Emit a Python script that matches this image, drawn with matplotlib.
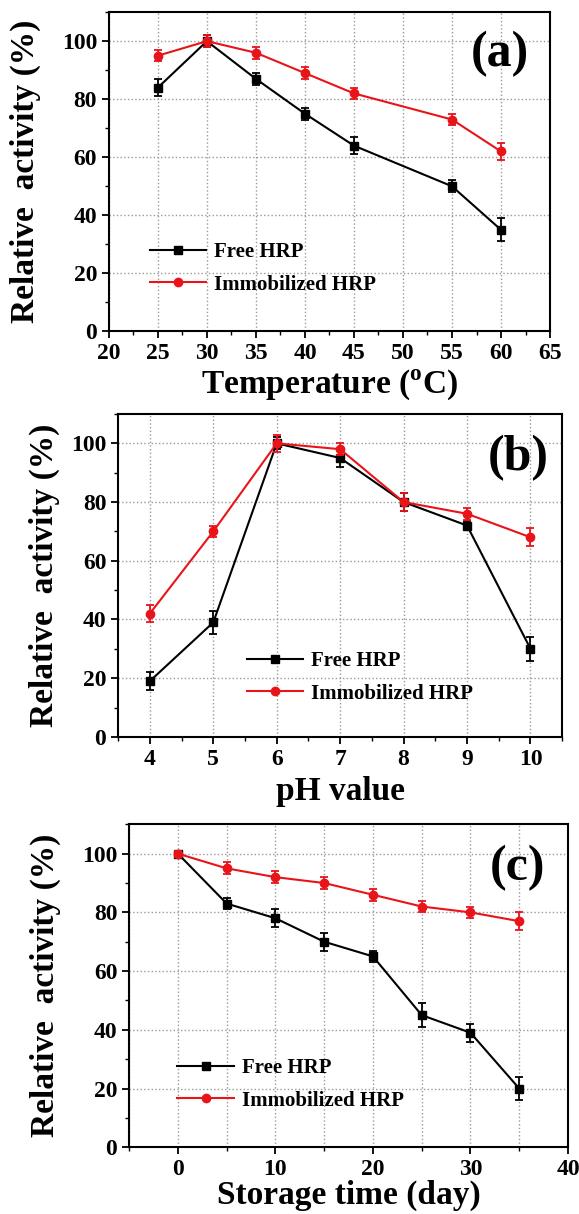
import matplotlib
matplotlib.use("Agg")
import matplotlib.pyplot as plt
from matplotlib.ticker import MultipleLocator
from matplotlib.lines import Line2D

plt.rcParams.update({
    "font.family": "Liberation Serif",
    "font.weight": "bold",
    "mathtext.fontset": "custom",
    "mathtext.rm": "Liberation Serif:bold",
    "axes.linewidth": 1.5,
    "xtick.major.width": 1.3,
    "ytick.major.width": 1.3,
    "xtick.minor.width": 1.0,
    "ytick.minor.width": 1.0,
})

RED = "#e8141a"

# (a) temperature
temp = [25, 30, 35, 40, 45, 55, 60]
temp_free = [84, 100, 87, 75, 64, 50, 35]
temp_free_err = [3, 2, 2, 2, 3, 2, 4]
temp_imm = [95, 100, 96, 89, 82, 73, 62]
temp_imm_err = [2, 2, 2, 2, 2, 2, 3]

# (b) pH
ph = [4, 5, 6, 7, 8, 9, 10]
ph_free = [19, 39, 100, 95, 80, 72, 30]
ph_free_err = [3, 4, 2, 3, 3, 1.5, 4]
ph_imm = [42, 70, 100, 98, 80, 76, 68]
ph_imm_err = [3, 2, 3, 2, 3, 2, 3]

# (c) storage
days = [0, 5, 10, 15, 20, 25, 30, 35]
day_free = [100, 83, 78, 70, 65, 45, 39, 20]
day_free_err = [1, 2, 3, 3, 2, 4, 3, 4]
day_imm = [100, 95, 92, 90, 86, 82, 80, 77]
day_imm_err = [1, 2, 2, 2, 2, 2, 2, 3]

fig = plt.figure(figsize=(5.79, 12.14), dpi=100)

panels = [
    dict(rect=[0.188, 0.727, 0.762, 0.263], x=temp, free=temp_free, ferr=temp_free_err,
         imm=temp_imm, ierr=temp_imm_err, xlim=(20, 65), xmaj=5, xmin=2.5,
         xlabel="Temperature ($^{\\mathrm{o}}$C)", tag="(a)", leg=(0.093, 0.197),
         tagpos=(0.887, 0.87), ylc=-0.154, xlc=-0.113, mingrid=False),
    dict(rect=[0.204, 0.393, 0.767, 0.266], x=ph, free=ph_free, ferr=ph_free_err,
         imm=ph_imm, ierr=ph_imm_err, xlim=(3.5, 10.5), xmaj=1, xmin=0.5,
         xlabel="pH value", tag="(b)", leg=(0.29, 0.184),
         tagpos=(0.90, 0.864), ylc=-0.13, xlc=-0.12, mingrid=False),
    dict(rect=[0.223, 0.055, 0.758, 0.266], x=days, free=day_free, ferr=day_free_err,
         imm=day_imm, ierr=day_imm_err, xlim=(-5, 40), xmaj=10, xmin=5,
         xlabel="Storage time (day)", tag="(c)", leg=(0.11, 0.195),
         tagpos=(0.885, 0.864), ylc=-0.156, xlc=-0.10, mingrid=True),
]

handles = [
    Line2D([], [], color="black", marker="s", markersize=6, linewidth=1.5),
    Line2D([], [], color=RED, marker="o", markersize=6, linewidth=1.5),
]
labels = ["Free HRP", "Immobilized HRP"]

for p in panels:
    ax = fig.add_axes(p["rect"])
    ax.errorbar(p["x"], p["free"], yerr=p["ferr"], color="black", marker="s",
                markersize=6, linewidth=1.5, capsize=3, elinewidth=1.3,
                capthick=1.3, zorder=3)
    ax.errorbar(p["x"], p["imm"], yerr=p["ierr"], color=RED, marker="o",
                markersize=6, linewidth=1.5, capsize=3, elinewidth=1.3,
                capthick=1.3, zorder=4)
    ax.set_xlim(*p["xlim"])
    ax.set_ylim(0, 110)
    ax.xaxis.set_major_locator(MultipleLocator(p["xmaj"]))
    ax.xaxis.set_minor_locator(MultipleLocator(p["xmin"]))
    ax.yaxis.set_major_locator(MultipleLocator(20))
    ax.yaxis.set_minor_locator(MultipleLocator(10))
    ax.set_yticks([0, 20, 40, 60, 80, 100])
    ax.tick_params(which="both", direction="out", top=False, right=False, labelsize=17)
    ax.tick_params(which="major", length=5)
    ax.tick_params(which="minor", length=3)
    ax.grid(True, which="major", axis="both", linestyle=":", color="#999999", linewidth=1.0)
    if p["mingrid"]:
        ax.grid(True, which="minor", axis="x", linestyle=":", color="#999999", linewidth=1.0)
    ax.set_axisbelow(True)
    ax.set_ylabel("Relative  activity (%)", fontsize=24, fontweight="bold")
    ax.set_xlabel(p["xlabel"], fontsize=24, fontweight="bold")
    ax.yaxis.set_label_coords(p["ylc"], 0.5)
    ax.xaxis.set_label_coords(0.5, p["xlc"])
    ax.text(p["tagpos"][0], p["tagpos"][1], p["tag"], transform=ax.transAxes,
            ha="center", va="center", fontsize=36, fontweight="bold")
    ax.legend(handles, labels, loc="center left", bbox_to_anchor=p["leg"], frameon=False,
              fontsize=15, handlelength=2.7, handletextpad=0.4, labelspacing=0.6,
              borderaxespad=0, borderpad=0)

fig.savefig("out.png", dpi=100)
